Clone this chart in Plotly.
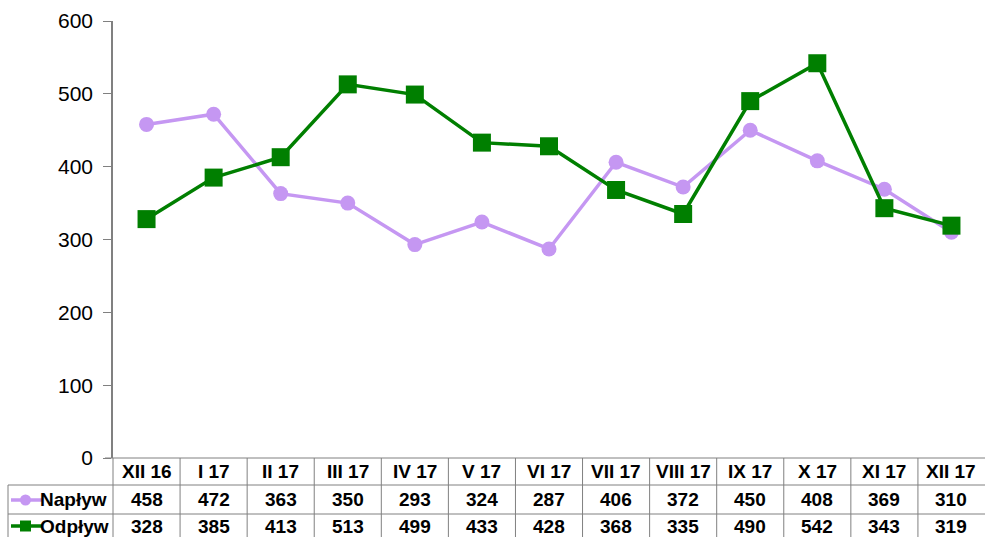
import plotly.graph_objects as go

categories = ["XII 16", "I 17", "II 17", "III 17", "IV 17", "V 17", "VI 17",
              "VII 17", "VIII 17", "IX 17", "X 17", "XI 17", "XII 17"]
naplyw = [458, 472, 363, 350, 293, 324, 287, 406, 372, 450, 408, 369, 310]
odplyw = [328, 385, 413, 513, 499, 433, 428, 368, 335, 490, 542, 343, 319]
series_names = ["Napływ", "Odpływ"]
y_ticks = [0, 100, 200, 300, 400, 500, 600]

PURPLE = "#C597F2"
GREEN = "#007F00"
W, H = 990, 537
L, R, T, B = 113, 985, 21, 458
pw, ph = R - L, B - T


def px(x):
    return (x - L) / pw


def py(y):
    return (B - y) / ph


xs = list(range(len(categories)))
fig = go.Figure()
fig.add_trace(go.Scatter(x=xs, y=naplyw, mode="lines+markers", name=series_names[0],
                         line=dict(color=PURPLE, width=3.5),
                         marker=dict(symbol="circle", size=15, color=PURPLE)))
fig.add_trace(go.Scatter(x=xs, y=odplyw, mode="lines+markers", name=series_names[1],
                         line=dict(color=GREEN, width=3.5),
                         marker=dict(symbol="square", size=18, color=GREEN)))

shapes = []
ann = []
grid = dict(color="#808080", width=1)
# horizontal table lines
for yy in (485, 514):
    shapes.append(dict(type="line", xref="paper", yref="paper", x0=px(8), x1=px(R),
                       y0=py(yy), y1=py(yy), line=grid))
# vertical separators
ncol = len(categories)
colw = pw / ncol
for k in range(ncol):
    xx = L + k * colw
    shapes.append(dict(type="line", xref="paper", yref="paper", x0=px(xx), x1=px(xx),
                       y0=py(B), y1=py(H + 5), line=grid))
shapes.append(dict(type="line", xref="paper", yref="paper", x0=px(8), x1=px(8),
                   y0=py(485), y1=py(H + 5), line=grid))

font_tab = dict(family="Liberation Sans, Arial, sans-serif", size=19, color="#000000")
row_y = [472, 500, 526]
rows = [categories, naplyw, odplyw]
for r, vals in enumerate(rows):
    for i, v in enumerate(vals):
        ann.append(dict(x=i, y=py(row_y[r]), xref="x", yref="paper", text=f"<b>{v}</b>",
                        showarrow=False, font=font_tab, xanchor="center", yanchor="middle"))

# legend keys in the table
for r, (name, col, sym) in enumerate([(series_names[0], PURPLE, "circle"),
                                      (series_names[1], GREEN, "square")]):
    yy = row_y[r + 1]
    shapes.append(dict(type="line", xref="paper", yref="paper", x0=px(11), x1=px(42),
                       y0=py(yy), y1=py(yy), line=dict(color=col, width=3.5)))
    if sym == "circle":
        shapes.append(dict(type="circle", xref="paper", yref="paper", x0=px(20), x1=px(31),
                           y0=py(yy + 5.5), y1=py(yy - 5.5), fillcolor=col, line=dict(color=col, width=0)))
    else:
        shapes.append(dict(type="rect", xref="paper", yref="paper", x0=px(20), x1=px(31),
                           y0=py(yy + 5.5), y1=py(yy - 5.5), fillcolor=col, line=dict(color=col, width=0)))
    ann.append(dict(x=px(38), y=py(yy), xref="paper", yref="paper", text=f"<b>{name}</b>",
                    showarrow=False, font=font_tab, xanchor="left", yanchor="middle"))

shapes.append(dict(type="line", xref="paper", yref="paper", x0=px(105), x1=1, y0=0, y1=0,
                   line=grid))

fig.update_layout(
    width=W, height=H,
    margin=dict(l=L, r=W - R, t=T, b=H - B, pad=0),
    paper_bgcolor="white", plot_bgcolor="white",
    showlegend=False,
    shapes=shapes, annotations=ann,
    xaxis=dict(range=[-0.5, ncol - 0.5], showticklabels=False, showgrid=False, zeroline=False,
               showline=False, ticks=""),
    yaxis=dict(range=[0, 600], tickvals=y_ticks, showgrid=False, zeroline=False,
               showline=True, linecolor="#808080", linewidth=1.5,
               ticks="outside", ticklen=8, tickcolor="#808080", ticklabelstandoff=6,
               tickfont=dict(family="Liberation Sans, Arial, sans-serif", size=21, color="#000000")),
)

fig.write_html("out.html", config={"displayModeBar": False},
               post_script="document.body.style.margin='0px';document.body.style.overflow='hidden';")
